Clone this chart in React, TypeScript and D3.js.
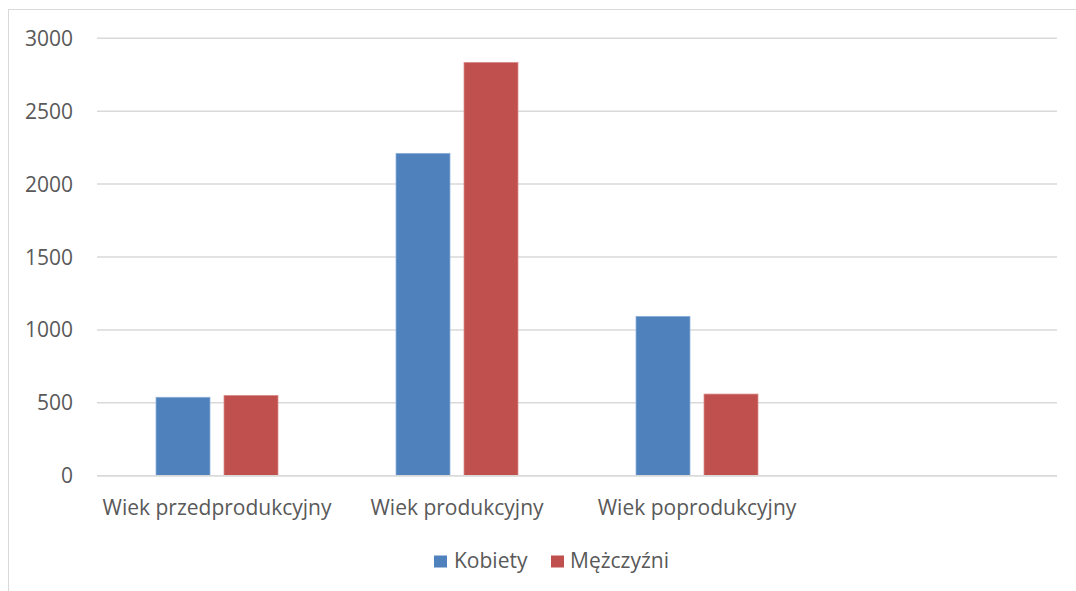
import React from "react";
import * as d3 from "d3";

const categories = ["Wiek przedprodukcyjny", "Wiek produkcyjny", "Wiek poprodukcyjny", ""];
const seriesNames = ["Kobiety", "Mężczyźni"];
const kobiety = [538, 2211, 1093, null];
const mezczyzni = [551, 2835, 560, null];
const yTicks = [0, 500, 1000, 1500, 2000, 2500, 3000];
const colors = ["#4F81BD", "#C0504D"];
const borderColors = ["#8FB0D9", "#D98F8D"];

const W = 1076;
const H = 591;
const FONT = "'Open Sans', sans-serif";
const TEXT = "#595959";
const GRID = "#D9D9D9";
const FS = 21;

export default function App() {
  const x0 = d3.scaleBand<string>().domain(categories.map((c, i) => String(i))).range([97, 1057]).paddingInner(0.4917).paddingOuter(0.24585);
  const x1 = d3.scaleBand<string>().domain(seriesNames).range([0, x0.bandwidth()]).paddingInner(0.206).paddingOuter(0);
  const y = d3.scaleLinear().domain([0, 3000]).range([475.7, 38.3]);
  const values = [kobiety, mezczyzni];

  return (
    <svg width={W} height={H} style={{ position: "absolute", left: 0, top: 0, background: "#fff" }} fontFamily={FONT}>
      <rect x={8.5} y={9.5} width={W} height={H} fill="#fff" stroke={GRID} strokeWidth={1} />
      {yTicks.map((t) => (
        <g key={t}>
          <line x1={97} x2={1057} y1={y(t)} y2={y(t)} stroke={GRID} strokeWidth={1.5} />
          <text x={73} y={y(t)} dy="0.36em" textAnchor="end" fontSize={FS} fill={TEXT}>
            {t}
          </text>
        </g>
      ))}
      {categories.map((c, i) => {
        const cx = x0(String(i))! + x0.bandwidth() / 2;
        return (
          <g key={i}>
            {seriesNames.map((s, si) => {
              const v = values[si][i];
              if (v == null) return null;
              return (
                <rect
                  key={s}
                  x={x0(String(i))! + x1(s)!}
                  y={y(v)}
                  width={x1.bandwidth()}
                  height={y(0) - y(v)}
                  fill={colors[si]}
                  stroke={borderColors[si]}
                  strokeWidth={0.75}
                />
              );
            })}
            <text x={cx} y={515} textAnchor="middle" fontSize={FS} fill={TEXT}>
              {c}
            </text>
          </g>
        );
      })}
      <line x1={97} x2={1057} y1={y(0)} y2={y(0)} stroke={GRID} strokeWidth={1.5} />
      <g>
        <rect x={434} y={555.5} width={13} height={12} fill={colors[0]} />
        <text x={454} y={568} fontSize={FS} fill={TEXT}>{seriesNames[0]}</text>
        <rect x={551} y={555.5} width={13} height={12} fill={colors[1]} />
        <text x={570} y={568} fontSize={FS} fill={TEXT}>{seriesNames[1]}</text>
      </g>
    </svg>
  );
}
